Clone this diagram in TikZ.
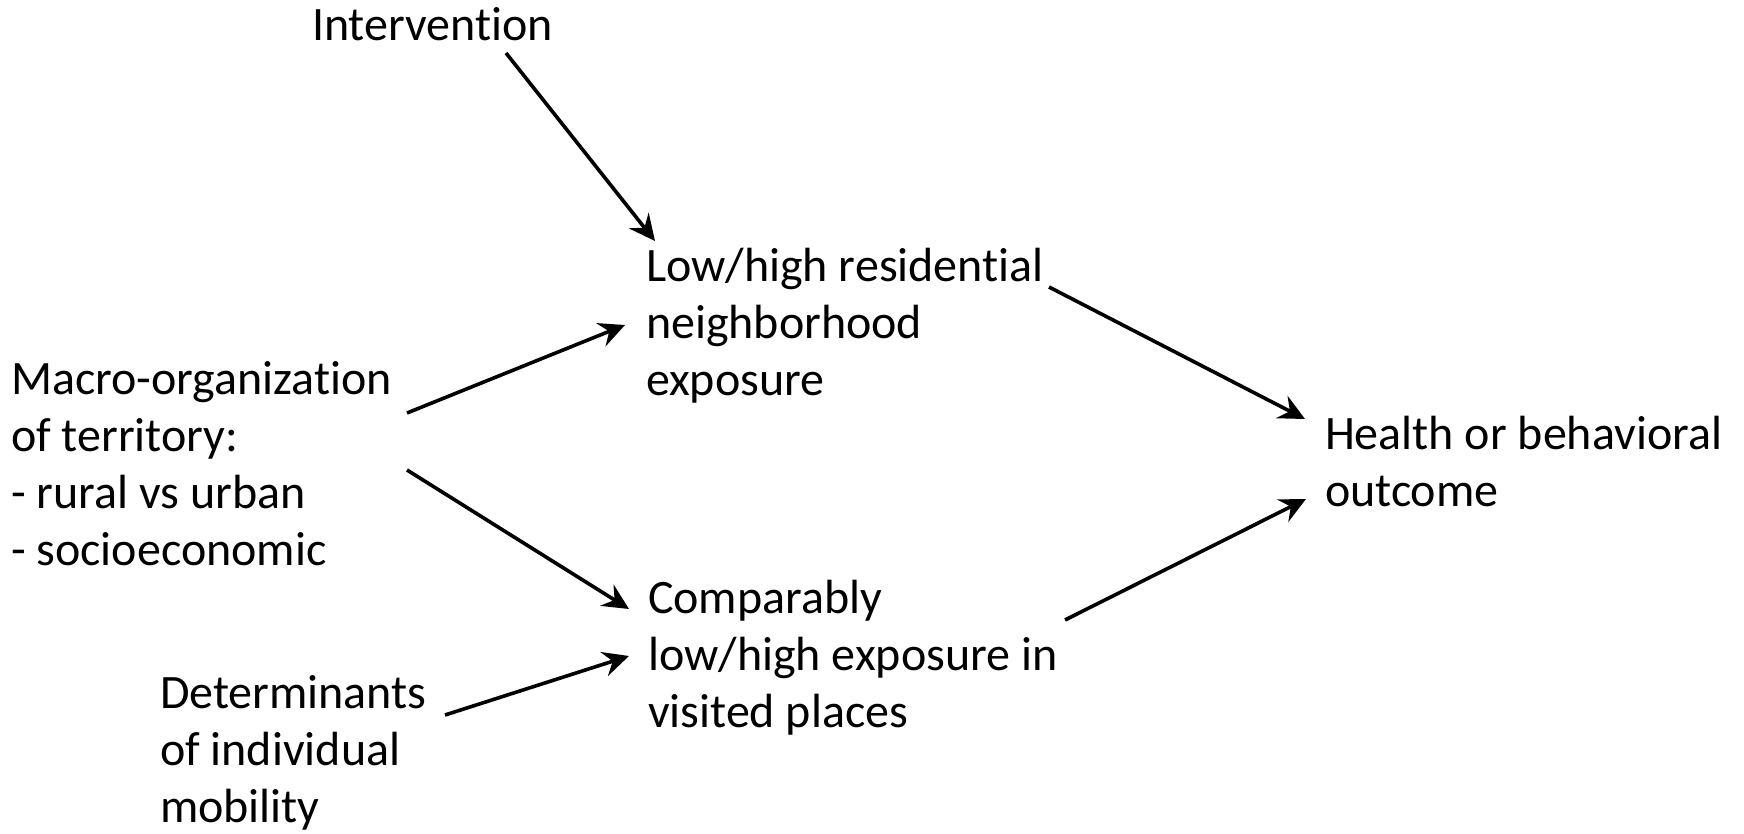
\documentclass[tikz,border=0pt]{standalone}
\usepackage{fontspec}
\setmainfont{Carlito}[Ligatures=NoCommon]
\usetikzlibrary{arrows.meta,calc}
\begin{document}
\begin{tikzpicture}[x=1pt,y=-1pt,
  lbl/.style={inner sep=0pt, outer sep=0pt, align=left, anchor=base west,
    font=\fontsize{48}{56.7}\selectfont},
  conn/.style={line width=3.6pt, -{Stealth[length=26pt,width=25pt,inset=9pt]}}]
\useasboundingbox (0,0) rectangle (1744,834);
% base west anchor = baseline of the last line
\node[lbl] (interv) at (312,41) {Intervention};
\node[lbl] (low) at (646,395) {Low/high residential\\neighborhood\\exposure};
\node[lbl] (macro) at (11,565) {Macro-organization\\of territory:\\- rural vs urban\\- socioeconomic};
\node[lbl] (health) at (1325,506) {Health or behavioral\\outcome};
\node[lbl] (comp) at (648,727) {Comparably\\low/high exposure in\\visited places};
\node[lbl] (det) at (160,822) {Determinants\\of individual\\mobility};
\draw[conn] ($(interv.base west)+(194,12)$) -- ($(low.base west)+(9,-154)$);
\draw[conn] ($(macro.base west)+(396,-152)$) -- ($(low.base west)+(-21,-70)$);
\draw[conn] ($(macro.base west)+(396,-95)$) -- ($(comp.base west)+(-19,-118)$);
\draw[conn] ($(det.base west)+(285,-107)$) -- ($(comp.base west)+(-19,-71)$);
\draw[conn] ($(low.base west)+(403,-108)$) -- ($(health.base west)+(-20,-87)$);
\draw[conn] ($(comp.base west)+(417,-107)$) -- ($(health.base west)+(-19,-7)$);
\end{tikzpicture}
\end{document}
